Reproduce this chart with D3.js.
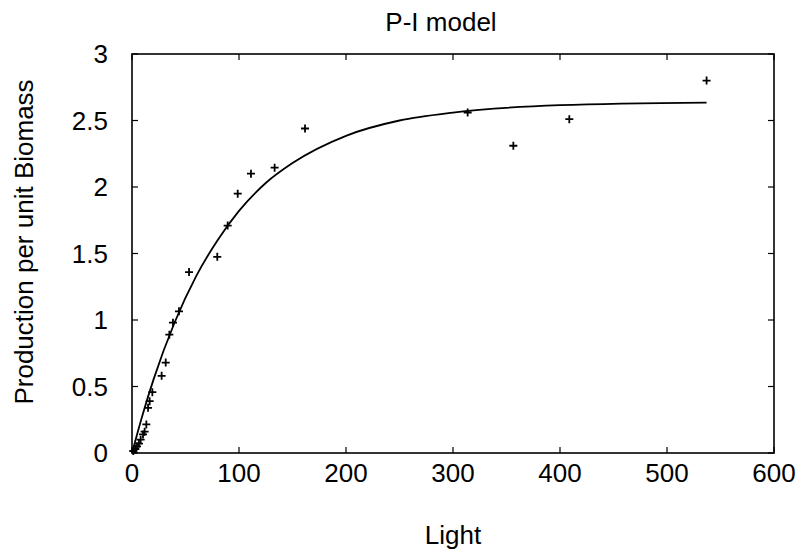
<html><head>
  <script src="https://d3js.org/d3.v7.min.js"></script>
  <style>
    body { margin:0; background:white; }
    text { font-family: "Liberation Sans", Arial, sans-serif; fill:black; }
  </style>
</head>
<body>
  <svg id="chart" width="798" height="550"></svg>
  <script>
    // observed points (Light, Production per unit Biomass)
    const lightObs = [1.2, 3.1, 4.7, 6.5, 8.1, 10.3, 11.8, 13.4, 15.0, 16.5, 19.0,
                      27.7, 31.5, 34.9, 38.3, 43.9, 53.3, 79.7, 89.4, 98.8, 111.2,
                      133.3, 161.7, 313.7, 356.4, 408.7, 537];
    const prodObs = [0.015, 0.03, 0.05, 0.07, 0.10, 0.14, 0.16, 0.215, 0.34, 0.39, 0.457,
                     0.58, 0.68, 0.89, 0.98, 1.065, 1.36, 1.475, 1.71, 1.95, 2.10,
                     2.145, 2.44, 2.56, 2.31, 2.51, 2.80];

    // model curve
    const lightFit = [0, 10, 20, 40, 60, 80, 100, 125, 150, 200, 250, 300, 400, 537];
    const prodFit = [0, 0.29, 0.55, 0.985, 1.33, 1.60, 1.82, 2.03, 2.18, 2.385, 2.50, 2.56, 2.615, 2.635];

    const xTicks = [0, 100, 200, 300, 400, 500, 600];
    const yTicks = [0, 0.5, 1, 1.5, 2, 2.5, 3];

    let svg = d3.select("svg#chart");
    const mLeft = 132, mRight = 774, mTop = 54, mBottom = 453;
    const fs = "26px";

    let x = d3.scaleLinear().domain([0, 600]).range([mLeft, mRight]);
    let y = d3.scaleLinear().domain([0, 3]).range([mBottom, mTop]);

    // frame
    svg.append("rect")
       .attr("x", mLeft).attr("y", mTop)
       .attr("width", mRight - mLeft).attr("height", mBottom - mTop)
       .attr("fill", "none").attr("stroke", "black").attr("stroke-width", 1.6);

    const tl = 6;
    xTicks.forEach(t => {
      svg.append("line").attr("x1", x(t)).attr("x2", x(t)).attr("y1", mBottom).attr("y2", mBottom - tl)
         .attr("stroke", "black").attr("stroke-width", 1.2);
      svg.append("line").attr("x1", x(t)).attr("x2", x(t)).attr("y1", mTop).attr("y2", mTop + tl)
         .attr("stroke", "black").attr("stroke-width", 1.2);
      svg.append("text").text(t)
         .attr("x", x(t)).attr("y", mBottom + 29)
         .style("font-size", fs).style("text-anchor", "middle");
    });

    yTicks.forEach(t => {
      svg.append("line").attr("x1", mLeft).attr("x2", mLeft + tl).attr("y1", y(t)).attr("y2", y(t))
         .attr("stroke", "black").attr("stroke-width", 1.2);
      svg.append("line").attr("x1", mRight).attr("x2", mRight - tl).attr("y1", y(t)).attr("y2", y(t))
         .attr("stroke", "black").attr("stroke-width", 1.2);
      svg.append("text").text(t)
         .attr("x", mLeft - 24).attr("y", y(t) + 9)
         .style("font-size", fs).style("text-anchor", "end");
    });

    // fitted curve
    const fit = lightFit.map((d, i) => [d, prodFit[i]]);
    svg.append("path")
       .datum(fit)
       .attr("d", d3.line().x(d => x(d[0])).y(d => y(d[1])).curve(d3.curveMonotoneX))
       .attr("fill", "none").attr("stroke", "black").attr("stroke-width", 1.8);

    // points as plus marks
    const h = 4;
    lightObs.forEach((d, i) => {
      const px = x(d), py = y(prodObs[i]);
      svg.append("path")
         .attr("d", `M${px - h},${py}H${px + h}M${px},${py - h}V${py + h}`)
         .attr("stroke", "black").attr("stroke-width", 1.8);
    });

    svg.append("text").text("P-I model")
       .attr("x", 441).attr("y", 31)
       .style("font-size", fs).style("text-anchor", "middle");

    svg.append("text").text("Light")
       .attr("x", 453).attr("y", 544)
       .style("font-size", fs).style("text-anchor", "middle");

    svg.append("text").text("Production per unit Biomass")
       .attr("transform", "translate(33, 242) rotate(-90)")
       .style("font-size", fs).style("text-anchor", "middle");
  </script>
</body>
</html>
